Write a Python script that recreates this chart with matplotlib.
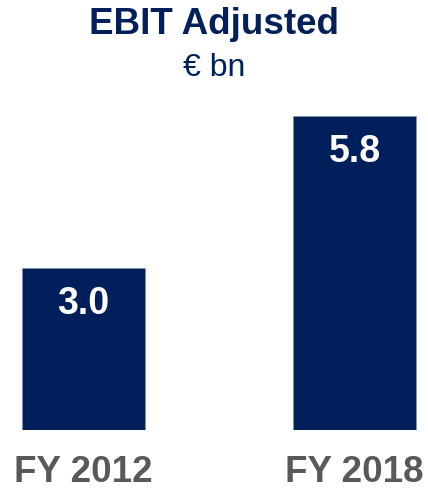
import matplotlib.pyplot as plt

plt.rcParams['font.family'] = ['Liberation Sans', 'DejaVu Sans']

categories = ["FY 2012", "FY 2018"]
values = [3.0, 5.8]
value_labels = ["3.0", "5.8"]

navy = "#001F5B"
grey = "#595959"

fig = plt.figure(figsize=(4.28, 4.9), dpi=100)
px = 54.15  # pixels per unit of value
ymax = 7.0
ax = fig.add_axes([0, 60 / 490, 1, ymax * px / 490])

x = list(range(len(categories)))
ax.bar(x, values, width=123 / 271, color=navy, edgecolor="#8090b0", linewidth=0.5)
ax.set_xlim(-83.5 / 271, (428 - 83.5) / 271)
ax.set_ylim(0, ymax)
ax.axis("off")

for xi, v, lab, cat in zip(x, values, value_labels, categories):
    ax.annotate(lab, (xi, v), xytext=(0, -36), textcoords="offset pixels",
                ha="center", va="center", color="white", fontsize=27, fontweight="bold")
    ax.annotate(cat, (xi, 0), xytext=(0, -52), textcoords="offset pixels",
                ha="center", va="baseline", color=grey, fontsize=26.5, fontweight="bold")

fig.text(0.5, 1 - 25 / 490, "EBIT Adjusted", ha="center", va="center",
         color=navy, fontsize=26.5, fontweight="bold")
fig.text(0.5, 1 - 68 / 490, "€ bn", ha="center", va="center",
         color=navy, fontsize=23)

fig.savefig("out.png", dpi=100)
